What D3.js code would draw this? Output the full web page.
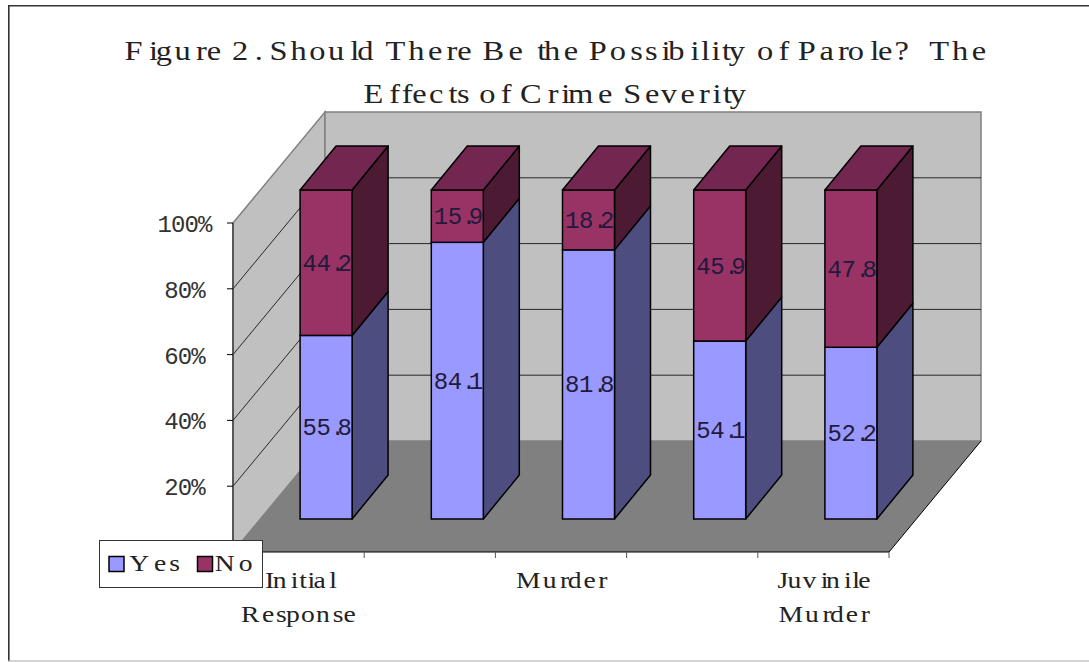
<!DOCTYPE html>
<html>
<head>
<meta charset="utf-8">
<script src="https://cdn.jsdelivr.net/npm/d3@7/dist/d3.min.js"></script>
<style>
html, body { margin: 0; padding: 0; background: #fff; }
svg { display: block; }
text { font-kerning: none; font-variant-ligatures: none; white-space: pre; }
</style>
</head>
<body>
<svg id="chart" width="1089" height="662"></svg>
<script>
// Stacked 3-D style columns: share answering yes / no on parole.
const titleLines = ["Figure 2. Should There Be the Possibility of Parole?  The", "Effects of Crime Severity"];
const categories = ["Initial Response", "Violent Crime", "Murder", "Juvenile Crime", "Juvinile Murder"];
const categoryLabels = [["Initial", "Response"], [], ["Murder"], [], ["Juvinile", "Murder"]];
const yesValues = [55.8, 84.1, 81.8, 54.1, 52.2];
const noValues = [44.2, 15.9, 18.2, 45.9, 47.8];
const yTicks = [20, 40, 60, 80, 100];
const legendNames = ["Yes", "No"];

const svg = d3.select("#chart");
const ctx = document.createElement("canvas").getContext("2d");

// Each glyph sits in a fixed-width cell, but the pen advances by proportional widths.
function advanceList(str, cx, advanceSize, glyphWidth, cell) {
  ctx.font = advanceSize + 'px "Liberation Serif"';
  const adv = Array.from(str, c => ctx.measureText(c).width);
  const total = d3.sum(adv);
  const xs = [];
  let pen = cx - total / 2;
  Array.from(str).forEach((c, i) => {
    xs.push(pen + Math.max(0, (cell - glyphWidth(c)) / 2));
    pen += adv[i];
  });
  return xs;
}

// Numbers: plain monospaced glyphs.
function monoText(parent, str, cx, y, size, advanceSize, fill) {
  const xs = advanceList(str, cx, advanceSize, () => 0, 0);
  return parent.append("text")
    .attr("x", xs.map(v => v.toFixed(1)).join(" "))
    .attr("y", y)
    .attr("font-family", '"Liberation Mono", monospace')
    .attr("font-size", size)
    .attr("fill", fill)
    .text(str);
}

// Words: a serif face widened horizontally, giving the thin typewriter look.
function serifText(parent, str, cx, y, size, advanceSize) {
  const sx = 1.2;
  const widths = {};
  ctx.font = size + 'px "Liberation Serif"';
  for (const c of str) widths[c] = ctx.measureText(c).width * sx;
  const xs = advanceList(str, cx, advanceSize, c => widths[c], size * 0.6);
  return parent.append("text")
    .attr("transform", `scale(${sx},1)`)
    .attr("x", xs.map(v => (v / sx).toFixed(2)).join(" "))
    .attr("y", y)
    .attr("font-family", '"Liberation Serif", serif')
    .attr("font-size", size)
    .attr("fill", "#222")
    .text(str);
}

// Projection of the plot box
const frontLeft = 233, frontRight = 889;
const depthX = 92, depthY = -111;
const frontBase = 552, frontTop = 223;
const yFront = d3.scaleLinear().domain([0, 100]).range([frontBase, frontTop]);
const xFront = d3.scaleBand().domain(categories).range([frontLeft, frontRight]);
const yBar = d3.scaleLinear().domain([0, 100]).range([519, 190]);
const barWidth = 52, barDepthX = 36, barDepthY = -44, barShift = 27.5;
const line = d3.line();
const poly = pts => line(pts) + "Z";

// Outer frame: open on the right, lighter along the bottom
svg.append("path").attr("fill", "none").attr("stroke", "#333").attr("stroke-width", 1.6)
  .attr("d", line([[8.8, 661], [8.8, 5.8], [1089, 5.8]]));
svg.append("line").attr("x1", 8).attr("x2", 1089).attr("y1", 661).attr("y2", 661)
  .attr("stroke", "#aaa").attr("stroke-width", 1.2);

// Walls and floor
const x0 = frontLeft, x1 = frontRight;
svg.append("path").attr("d", poly([[x0, yFront(100)], [x0 + depthX, yFront(100) + depthY], [x0 + depthX, yFront(0) + depthY], [x0, yFront(0)]]))
  .attr("fill", "#c0c0c0").attr("stroke", "#808080").attr("stroke-width", 1.5);
svg.append("path").attr("d", poly([[x0 + depthX, yFront(100) + depthY], [x1 + depthX, yFront(100) + depthY], [x1 + depthX, yFront(0) + depthY], [x0 + depthX, yFront(0) + depthY]]))
  .attr("fill", "#c0c0c0").attr("stroke", "#808080").attr("stroke-width", 1.5);
svg.append("path").attr("d", poly([[x0, yFront(0)], [x1, yFront(0)], [x1 + depthX, yFront(0) + depthY], [x0 + depthX, yFront(0) + depthY]]))
  .attr("fill", "#808080");

// Gridlines run along the side wall and across the back wall
yTicks.filter(t => t < 100).forEach(t => {
  svg.append("path").attr("fill", "none").attr("stroke", "#000").attr("stroke-width", 0.8)
    .attr("d", line([[x0, yFront(t)], [x0 + depthX, yFront(t) + depthY], [x1 + depthX, yFront(t) + depthY]]));
});

// Axis lines and ticks
svg.append("path").attr("fill", "none").attr("stroke", "#404040").attr("stroke-width", 1.5)
  .attr("d", line([[x0, yFront(100)], [x0, yFront(0)]]));
svg.append("path").attr("fill", "none").attr("stroke", "#000").attr("stroke-width", 1)
  .attr("d", line([[x1 + depthX, yFront(0) + depthY], [x1, yFront(0)], [x0, yFront(0)]]));
yTicks.forEach(t => {
  svg.append("line").attr("x1", x0 - 6).attr("x2", x0).attr("y1", yFront(t)).attr("y2", yFront(t)).attr("stroke", "#000");
  monoText(svg, t + "%", x0 - 44, yFront(t) + 9, 24, 27, "#333");
});
categories.forEach(c => {
  const tx = xFront(c) + xFront.bandwidth();
  svg.append("line").attr("x1", tx).attr("x2", tx).attr("y1", frontBase).attr("y2", frontBase + 6).attr("stroke", "#555");
});

// Columns, stacked from the base
const colours = {
  yes: { front: "#9999ff", side: "#4d4d80" },
  no: { front: "#993366", side: "#4d1a33", top: "#732650" }
};
categories.forEach((c, i) => {
  const cx = xFront(c) + xFront.bandwidth() / 2 + barShift;
  const l = cx - barWidth / 2, r = cx + barWidth / 2;
  const yes = yesValues[i], no = noValues[i];
  const segs = [
    { lo: 0, hi: yes, col: colours.yes },
    { lo: yes, hi: yes + no, col: colours.no }
  ];
  segs.forEach(s => {
    const yl = yBar(s.lo), yh = yBar(s.hi);
    svg.append("path").attr("d", poly([[r, yl], [r + barDepthX, yl + barDepthY], [r + barDepthX, yh + barDepthY], [r, yh]]))
      .attr("fill", s.col.side).attr("stroke", "#000").attr("stroke-width", 1.5).attr("stroke-linejoin", "round");
    svg.append("rect").attr("x", l).attr("y", yh).attr("width", barWidth).attr("height", yl - yh)
      .attr("fill", s.col.front).attr("stroke", "#000").attr("stroke-width", 1.5);
  });
  const yt = yBar(yes + no);
  svg.append("path").attr("d", poly([[l, yt], [l + barDepthX, yt + barDepthY], [r + barDepthX, yt + barDepthY], [r, yt]]))
    .attr("fill", colours.no.top).attr("stroke", "#000").attr("stroke-width", 1.5).attr("stroke-linejoin", "round");
  segs.forEach((s, k) => {
    monoText(svg, (k === 0 ? yes : no).toFixed(1), cx + 1, yBar((s.lo + s.hi) / 2) + 8, 24, 28, "#221a3a");
  });
});

// Category labels, only every other one fits
categoryLabels.forEach((lines, i) => {
  const c = categories[i];
  const cx = xFront(c) + xFront.bandwidth() / 2;
  lines.forEach((t, k) => serifText(svg, t, cx, 588.5 + k * 34, 23, 30));
});

// Title
titleLines.forEach((t, k) => serifText(svg, t, 556, 60 + k * 43, 27, 37.6));

// Legend
const legend = svg.append("g");
legend.append("rect").attr("x", 99.5).attr("y", 540.5).attr("width", 163).attr("height", 47)
  .attr("fill", "#fff").attr("stroke", "#333");
[colours.yes.front, colours.no.front].forEach((col, i) => {
  const lx = [109, 197.5][i];
  legend.append("rect").attr("x", lx).attr("y", 556.5).attr("width", 15).attr("height", 15)
    .attr("fill", col).attr("stroke", "#000").attr("stroke-width", 1.5);
  serifText(legend, legendNames[i], [155, 235][i], 571, 23, 33);
});
</script>
</body>
</html>
